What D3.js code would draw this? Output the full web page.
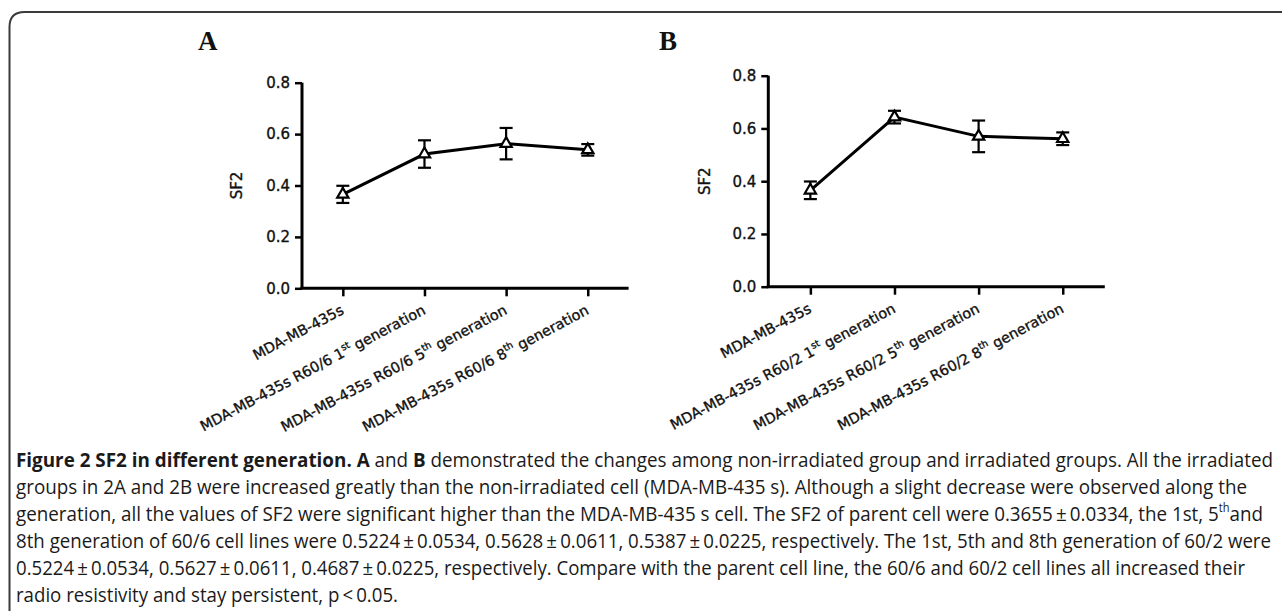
<!DOCTYPE html>
<html><head><meta charset="utf-8">
<script src="https://cdn.jsdelivr.net/npm/d3@7"></script>
<style>
html,body{margin:0;padding:0;background:#fff;}
svg{display:block;}
</style></head>
<body>
<svg id="chart" width="1282" height="611"></svg>
<script>
// ---------- data ----------
const categoriesA = ["MDA-MB-435s", "MDA-MB-435s R60/6 1st generation", "MDA-MB-435s R60/6 5th generation", "MDA-MB-435s R60/6 8th generation"];
const categoriesB = ["MDA-MB-435s", "MDA-MB-435s R60/2 1st generation", "MDA-MB-435s R60/2 5th generation", "MDA-MB-435s R60/2 8th generation"];
const meanA = [0.3655, 0.5224, 0.5628, 0.5387];
const errA  = [0.0334, 0.0534, 0.0611, 0.0225];
const meanB = [0.3655, 0.643, 0.570, 0.561];
const errB  = [0.0334, 0.024, 0.060, 0.024];
const yTicks = [0, 0.2, 0.4, 0.6, 0.8];
const yDomain = [0, 0.8];
const yTitle = "SF2";
const panelLetters = ["A", "B"];
const captionLines = [
  [["b","Figure 2 SF2 in different generation. A"],["n"," and "],["b","B"],["n"," demonstrated the changes among non-irradiated group and irradiated groups. All the irradiated"]],
  [["n","groups in 2A and 2B were increased greatly than the non-irradiated cell (MDA-MB-435 s). Although a slight decrease were observed along the"]],
  [["n","generation, all the values of SF2 were significant higher than the MDA-MB-435 s cell. The SF2 of parent cell were 0.3655\u2009±\u20090.0334, the 1st, 5"],["s","th"],["n","and"]],
  [["n","8th generation of 60/6 cell lines were 0.5224\u2009±\u20090.0534, 0.5628\u2009±\u20090.0611, 0.5387\u2009±\u20090.0225, respectively. The 1st, 5th and 8th generation of 60/2 were"]],
  [["n","0.5224\u2009±\u20090.0534, 0.5627\u2009±\u20090.0611, 0.4687\u2009±\u20090.0225, respectively. Compare with the parent cell line, the 60/6 and 60/2 cell lines all increased their"]],
  [["n","radio resistivity and stay persistent, p\u2009<\u20090.05."]]
];

// ---------- layout ----------
const svg = d3.select("#chart");
const FONT = "'DejaVu Sans', sans-serif";

// frame
svg.append("path")
  .attr("d", "M9.5,611 V27 Q9.5,12 24.5,12 H1282")
  .attr("fill", "none").attr("stroke", "#3a3a3a").attr("stroke-width", 2);

const panels = [
  {cats: categoriesA, mean: meanA, err: errA, letter: panelLetters[0], letterX: 198, x0: 302, x1: 628.6, yTop: 82.7, yBot: 288.3, titleX: 242},
  {cats: categoriesB, mean: meanB, err: errB, letter: panelLetters[1], letterX: 659, x0: 768.3, x1: 1104.8, yTop: 75.7, yBot: 286.7, titleX: 710}
];

function labelParts(s){
  const m = s.match(/^(.* \d)(st|nd|rd|th)( generation)$/);
  return m ? [[m[1], false],[m[2], true],[m[3], false]] : [[s,false]];
}

function heavy(sel){ return sel.attr("stroke", "#111").attr("stroke-width", 0.35); }

panels.forEach(p => {
  const g = svg.append("g");
  const x = d3.scalePoint().domain(p.cats).range([p.x0, p.x1]).padding(0.5);
  const y = d3.scaleLinear().domain(yDomain).range([p.yBot, p.yTop]);

  // panel letter
  g.append("text").attr("x", p.letterX).attr("y", 50)
    .attr("font-family", "'Liberation Serif', 'Times New Roman', serif")
    .attr("font-weight", "bold").attr("font-size", 27).attr("fill", "#111")
    .text(p.letter);

  // y axis
  const yAxis = g.append("g").attr("transform", `translate(${p.x0},0)`)
    .call(d3.axisLeft(y).tickValues(yTicks).tickFormat(d3.format(".1f")).tickSize(7).tickPadding(5));
  yAxis.select(".domain").attr("d", `M0,${p.yTop}V${p.yBot}`).attr("stroke", "#000").attr("stroke-width", 3);
  yAxis.selectAll(".tick line").attr("stroke", "#000").attr("stroke-width", 2.5);
  heavy(yAxis.selectAll(".tick text").attr("font-family", FONT).attr("font-size", 15).attr("fill", "#111"));

  // x axis
  const xAxis = g.append("g").attr("transform", `translate(0,${p.yBot})`)
    .call(d3.axisBottom(x).tickSize(8).tickFormat(""));
  xAxis.select(".domain").attr("d", `M${p.x0 - 1.5},0H${p.x1}`).attr("stroke", "#000").attr("stroke-width", 3);
  xAxis.selectAll(".tick line").attr("stroke", "#000").attr("stroke-width", 2.5);
  xAxis.selectAll(".tick text").remove();

  // rotated x labels
  p.cats.forEach(c => {
    const t = heavy(g.append("text")
      .attr("transform", `translate(${x(c) + 2},${p.yBot + 25}) rotate(-28)`)
      .attr("text-anchor", "end").attr("font-family", FONT).attr("font-size", 14.4).attr("fill", "#111"));
    labelParts(c).forEach(([s, sup]) => {
      const ts = t.append("tspan").text(s);
      if (sup) ts.attr("font-size", 9.5).attr("dy", -6);
      else if (t.selectAll("tspan").size() > 1) ts.attr("dy", 6);
    });
  });

  // y title
  heavy(g.append("text").attr("transform", `translate(${p.titleX},${(p.yTop + p.yBot) / 2}) rotate(-90)`)
    .attr("text-anchor", "middle").attr("font-family", FONT).attr("font-size", 15).attr("fill", "#111")
    .text(yTitle));

  const pts = p.cats.map((c, i) => ({c, m: p.mean[i], e: p.err[i]}));

  // error bars
  const eb = g.append("g").attr("stroke", "#000").attr("stroke-width", 2.2).attr("fill", "none");
  pts.forEach(d => {
    const cx = x(d.c);
    eb.append("line").attr("x1", cx).attr("x2", cx).attr("y1", y(d.m - d.e)).attr("y2", y(d.m + d.e));
    [d.m - d.e, d.m + d.e].forEach(v => {
      eb.append("line").attr("x1", cx - 6.5).attr("x2", cx + 6.5).attr("y1", y(v)).attr("y2", y(v));
    });
  });

  // line
  g.append("path").datum(pts)
    .attr("d", d3.line().x(d => x(d.c)).y(d => y(d.m)))
    .attr("fill", "none").attr("stroke", "#000").attr("stroke-width", 3);

  // markers
  g.selectAll(".mk").data(pts).join("path")
    .attr("transform", d => `translate(${x(d.c)},${y(d.m)})`)
    .attr("d", d3.symbol(d3.symbolTriangle, 55))
    .attr("fill", "#fff").attr("stroke", "#000").attr("stroke-width", 2.2);
});

// caption (slightly condensed glyphs: smaller font, stretched vertically, fitted to the line widths)
const capWidths = [1257, 1231, 1247, 1255, 1229, 382];
captionLines.forEach((line, i) => {
  const t = svg.append("g").attr("transform", `translate(16,${466.5 + i * 27}) scale(1,1.18)`)
    .append("text")
    .attr("x", 0).attr("y", 0)
    .attr("font-family", "'Open Sans', sans-serif").attr("font-size", 17).attr("fill", "#1a1a1a")
    .attr("textLength", capWidths[i]).attr("lengthAdjust", "spacingAndGlyphs");
  let prevSup = false;
  line.forEach(([kind, s]) => {
    const ts = t.append("tspan").text(s);
    if (kind === "b") ts.attr("font-weight", "bold");
    if (kind === "s") { ts.attr("font-size", 10).attr("dy", -7); prevSup = true; }
    else if (prevSup) { ts.attr("dy", 7); prevSup = false; }
  });
});
</script>
</body></html>
